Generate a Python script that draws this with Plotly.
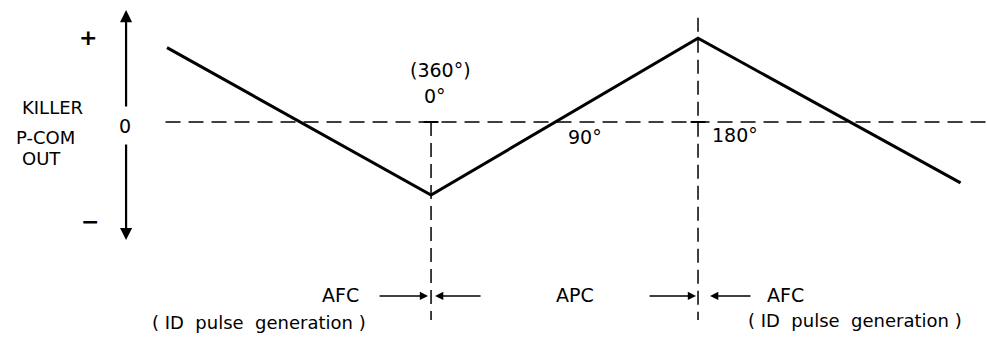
import plotly.graph_objects as go

# detector output vs phase (deg); level in relative units (+ ~ 1, - ~ -1)
phase = [-178, 0, 180, 357]
level = [0.80, -0.785, 0.90, -0.655]

phase_ticks = ["0°", "90°", "180°"]
phase_tick_pos = [0, 90, 180]

FONT = "DejaVu Sans"
X_RANGE = [-290.6, 375.5]
Y_RANGE = [-2.323, 1.312]
AXIS_X = -205.6

fig = go.Figure()

fig.add_trace(
    go.Scatter(
        x=phase,
        y=level,
        mode="lines",
        line=dict(color="black", width=3),
        hoverinfo="skip",
        showlegend=False,
    )
)

shapes = [
    # zero reference (dashed)
    dict(type="line", x0=-179, x1=X_RANGE[1], y0=0, y1=0,
         line=dict(color="black", width=1.5, dash="15px,8px")),
    # 0 deg marker
    dict(type="line", x0=0, x1=0, y0=0, y1=-2.13,
         line=dict(color="black", width=1.5, dash="14px,7px")),
    # 180 deg marker
    dict(type="line", x0=180, x1=180, y0=1.12, y1=-2.13,
         line=dict(color="black", width=1.5, dash="14px,7px")),
    # small ticks on zero line
    dict(type="line", x0=-5, x1=5, y0=0, y1=0, line=dict(color="black", width=2)),
    dict(type="line", x0=175, x1=185, y0=0, y1=0, line=dict(color="black", width=2)),
]

annotations = []


def txt(x, y, s, size=19, xanchor="center"):
    annotations.append(
        dict(x=x, y=y, text=s, showarrow=False, xanchor=xanchor, yanchor="middle",
             font=dict(family=FONT, size=size, color="black"))
    )


def arrow(x0, y0, x1, y1, width=1.5, head=2):
    annotations.append(
        dict(x=x1, y=y1, ax=x0, ay=y0, xref="x", yref="y", axref="x", ayref="y",
             text="", showarrow=True, arrowhead=head, arrowsize=1.1,
             arrowwidth=width, arrowcolor="black")
    )


# vertical axis with a gap for the "0"
arrow(AXIS_X, 0.15, AXIS_X, 1.204, width=2.2)
arrow(AXIS_X, -0.226, AXIS_X, -1.269, width=2.2)

txt(-231.2, 0.914, "<b>+</b>", size=22)
txt(-229.9, -1.075, "<b>−</b>", size=22)
txt(-206.3, -0.043, "0", size=19)

# y-axis caption, three short lines
txt(-255.5, 0.161, "KILLER", size=18)
txt(-259.6, -0.165, "P-COM", size=18)
txt(-262.3, -0.39, "OUT", size=18)

txt(6.1, 0.559, "(360°)", size=19)
for lbl, pos, dx, dy in zip(phase_ticks, phase_tick_pos, [2.7, 13.8, 25.0],
                            [0.28, -0.161, -0.14]):
    txt(pos + dx, dy, lbl, size=19)

# bottom region labels
txt(-61.3, -1.86, "AFC", size=19)
txt(-116, -2.161, "( ID  pulse  generation )", size=18)
arrow(-35.7, -1.871, -2, -1.871)
arrow(34.4, -1.871, 2.7, -1.871)
txt(97.1, -1.86, "APC", size=19)
arrow(146.3, -1.871, 178.7, -1.871)
arrow(216.4, -1.871, 188.1, -1.871)
txt(238.7, -1.86, "AFC", size=19)
txt(285.9, -2.14, "( ID  pulse  generation )", size=18)

fig.update_layout(
    width=988,
    height=338,
    margin=dict(l=0, r=0, t=0, b=0),
    paper_bgcolor="white",
    plot_bgcolor="white",
    shapes=shapes,
    annotations=annotations,
    xaxis=dict(range=X_RANGE, visible=False, fixedrange=True),
    yaxis=dict(range=Y_RANGE, visible=False, fixedrange=True),
    showlegend=False,
)

fig.write_html(
    "out.html",
    config={"displayModeBar": False},
    post_script="document.body.style.margin='0';",
)
